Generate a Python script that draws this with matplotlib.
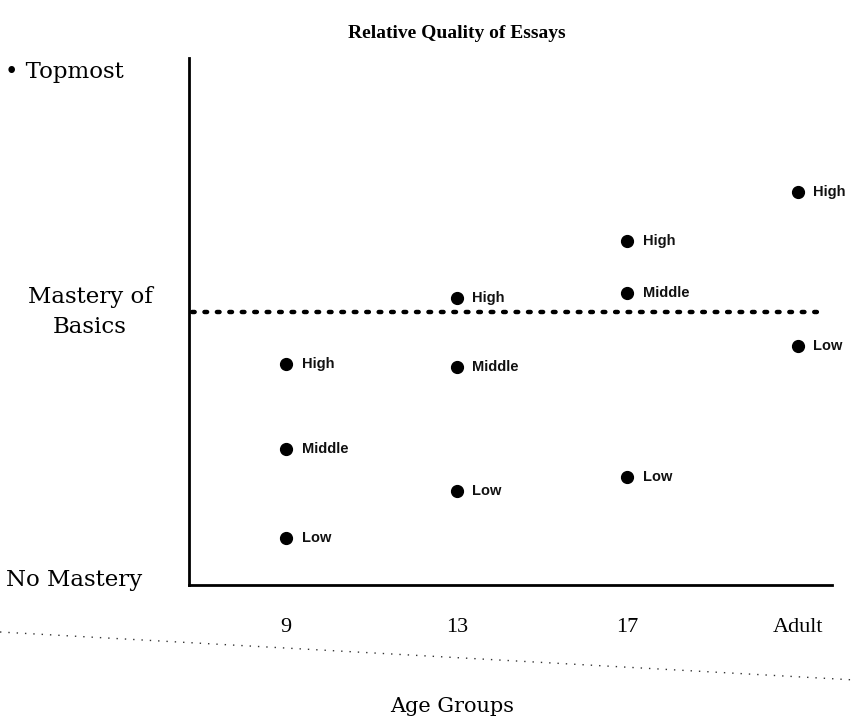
import matplotlib
matplotlib.use("Agg")
import matplotlib.pyplot as plt
from matplotlib.lines import Line2D

# ---- data ----
age_groups = ["9", "13", "17", "Adult"]
level_names = ["High", "Middle", "Low"]
# quality scores (0 = No Mastery, 100 = Topmost); None = not shown
high_vals = [43, 56, 67, 76.5]
middle_vals = [26.5, 42.5, 57, None]
low_vals = [9.2, 18.3, 21, 46.5]
mastery_level = 53.2
ytick_labels = ["No Mastery", "Mastery of\nBasics", "Topmost"]
ytick_vals = [0, mastery_level, 100]

W, H = 855, 716
fig = plt.figure(figsize=(W / 100, H / 100), dpi=100)
ax = fig.add_axes([189 / W, 1 - 585 / H, (832 - 189) / W, (585 - 58) / H])

xs = list(range(len(age_groups)))
series = {"High": high_vals, "Middle": middle_vals, "Low": low_vals}
for name, vals in series.items():
    for x, v in zip(xs, vals):
        if v is None:
            continue
        ax.plot(x, v, "o", color="black", markersize=8.5, clip_on=False)
        ax.text(x + 0.09, v, name, fontsize=10.5, fontweight="bold",
                family="Liberation Sans", va="center", ha="left", color="#111")

ax.plot([-0.55, 3.13], [mastery_level, mastery_level], linestyle=(0, (0.6, 2.2)),
        color="black", linewidth=3.2, dash_capstyle="round", clip_on=False)

ax.set_xlim(-0.57, 3.2)
ax.set_ylim(0, 102.7)
ax.spines["top"].set_visible(False)
ax.spines["right"].set_visible(False)
ax.spines["left"].set_linewidth(2)
ax.spines["bottom"].set_linewidth(2)
ax.set_xticks(xs)
ax.set_xticklabels(age_groups, family="Liberation Serif", fontsize=16)
ax.tick_params(axis="x", length=0, pad=24)
ax.set_yticks([])

serif = "DejaVu Serif"
fs = 16.5
fig.text(5 / W, 1 - 72 / H, "\u2022 Topmost", family=serif, fontsize=fs,
         va="center", ha="left")
fig.text(90 / W, 1 - 312 / H, ytick_labels[1], family=serif, fontsize=fs,
         va="center", ha="center", linespacing=1.45)
fig.text(6 / W, 1 - 580 / H, ytick_labels[0], family=serif, fontsize=fs,
         va="center", ha="left")

fig.text(457 / W, 1 - 34 / H, "Relative Quality of Essays", family="Liberation Serif",
         fontsize=14, fontweight="bold", va="center", ha="center")
fig.text(452 / W, 1 - 706 / H, "Age Groups", family=serif, fontsize=15,
         va="center", ha="center")

# slanted dotted scan line across the bottom
fig.add_artist(Line2D([0, 1], [1 - 632 / H, 1 - 680 / H], transform=fig.transFigure,
                      linestyle=(0, (1, 5)), color="#333", linewidth=1))

fig.savefig("out.png", dpi=100, facecolor="white")
